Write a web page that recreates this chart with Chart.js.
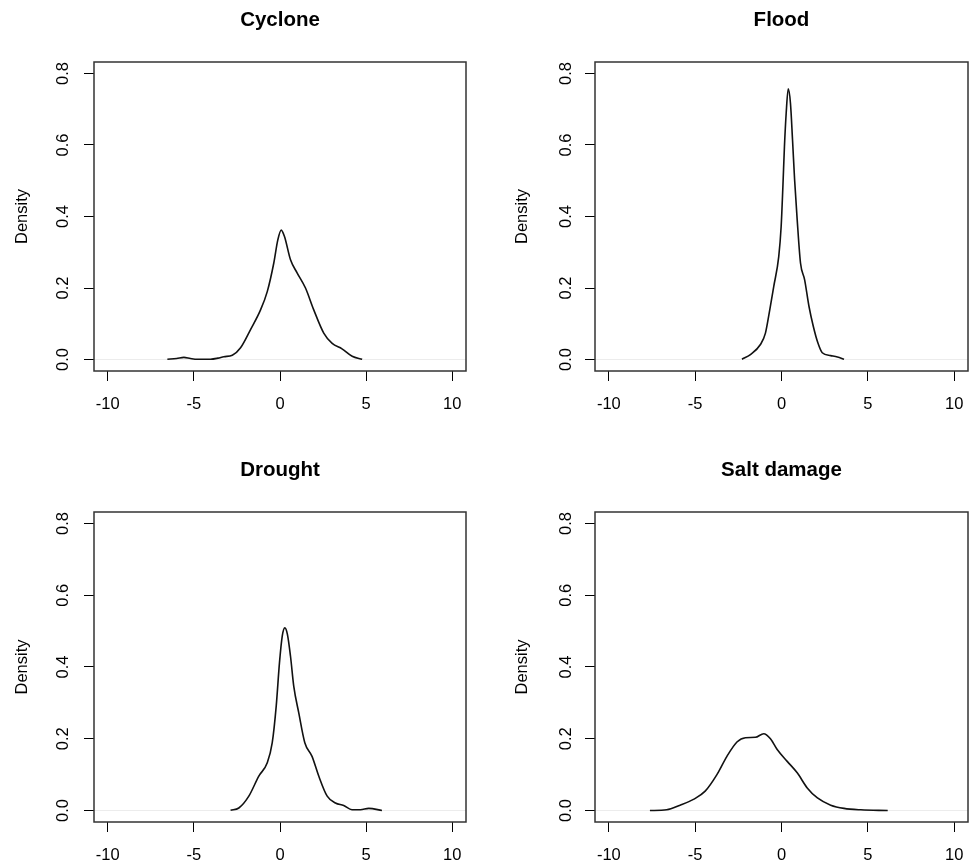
<!DOCTYPE html>
<html>
<head>
<meta charset="utf-8">
<script src="https://cdn.jsdelivr.net/npm/chart.js@4.4.1/dist/chart.umd.min.js"></script>
<style>
  html, body { margin: 0; padding: 0; background: #fff; }
  body { width: 970px; height: 864px; position: relative; overflow: hidden; }
  canvas { position: absolute; }
</style>
</head>
<body>
<canvas id="c1" width="485" height="432" style="left:0px;top:0px"></canvas>
<canvas id="c2" width="505" height="432" style="left:485px;top:0px"></canvas>
<canvas id="c3" width="485" height="432" style="left:0px;top:432px"></canvas>
<canvas id="c4" width="505" height="432" style="left:485px;top:432px"></canvas>
<script>
// ---- data ----
const panelTitles = ["Cyclone", "Flood", "Drought", "Salt damage"];
const yAxisLabel = "Density";
const xTickValues = [-10, -5, 0, 5, 10];
const yTickValues = [0, 0.2, 0.4, 0.6, 0.8];

const cycloneX = [-6.54,-6.0,-5.58,-5.2,-4.8,-4.03,-3.6,-3.26,-2.77,-2.29,-1.71,-1.13,-0.74,-0.36,-0.13,0.07,0.26,0.61,1.0,1.48,1.96,2.54,3.03,3.6,4.19,4.77];
const cycloneY = [0.001,0.003,0.006,0.003,0.001,0.001,0.004,0.008,0.012,0.033,0.084,0.139,0.19,0.27,0.334,0.362,0.344,0.279,0.242,0.2,0.139,0.074,0.045,0.03,0.009,0.001];

const floodX = [-2.29,-1.8,-1.22,-0.93,-0.68,-0.45,-0.16,-0.02,0.08,0.17,0.27,0.39,0.52,0.64,0.76,0.91,1.1,1.34,1.59,1.84,2.11,2.36,2.85,3.24,3.62];
const floodY = [0.001,0.014,0.042,0.074,0.139,0.204,0.288,0.372,0.483,0.595,0.688,0.757,0.716,0.613,0.502,0.39,0.27,0.223,0.149,0.093,0.046,0.019,0.011,0.007,0.001];

const droughtX = [-2.87,-2.39,-1.81,-1.23,-0.74,-0.45,-0.22,-0.03,0.13,0.28,0.43,0.61,0.8,1.09,1.44,1.86,2.25,2.74,3.22,3.7,4.18,4.67,5.15,5.92];
const droughtY = [0.001,0.007,0.04,0.096,0.133,0.189,0.291,0.412,0.486,0.509,0.491,0.43,0.346,0.272,0.189,0.151,0.096,0.04,0.021,0.014,0.002,0.002,0.006,0.0];

const saltX = [-7.62,-6.65,-5.87,-5.1,-4.42,-3.74,-3.16,-2.58,-2.09,-1.51,-1.03,-0.64,-0.25,0.33,0.91,1.49,2.08,2.85,3.62,4.59,6.15];
const saltY = [0.0,0.002,0.015,0.031,0.054,0.1,0.151,0.191,0.203,0.204,0.214,0.2,0.17,0.137,0.105,0.063,0.035,0.015,0.006,0.002,0.0];

const seriesX = [cycloneX, floodX, droughtX, saltX];
const seriesY = [cycloneY, floodY, droughtY, saltY];

// ---- layout per panel ----
const layouts = [
  { padL: 0,  yW: 94, padR: 19, topH: 62, titlePad: 8,    xH: 61, tickPad: 9 },
  { padL: 15, yW: 95, padR: 22, topH: 62, titlePad: 8,    xH: 61, tickPad: 7 },
  { padL: 0,  yW: 94, padR: 19, topH: 80, titlePad: 26.4, xH: 42, tickPad: 9 },
  { padL: 15, yW: 95, padR: 22, topH: 80, titlePad: 26.4, xH: 42, tickPad: 7 }
];

const FONT = "'Liberation Sans', Arial, Helvetica, sans-serif";

const boxPlugin = {
  id: 'rbox',
  afterDraw(chart) {
    const a = chart.chartArea, ctx = chart.ctx;
    ctx.save();
    ctx.strokeStyle = '#333';
    ctx.lineWidth = 1.5;
    ctx.strokeRect(a.left, a.top, a.right - a.left, a.bottom - a.top);
    ctx.restore();
  }
};

function makeChart(i) {
  const L = layouts[i];
  const pts = seriesX[i].map((x, k) => ({ x: x, y: seriesY[i][k] }));
  new Chart(document.getElementById('c' + (i + 1)), {
    type: 'line',
    data: {
      datasets: [{
        data: pts,
        borderColor: '#111',
        borderWidth: 1.6,
        pointRadius: 0,
        fill: false,
        cubicInterpolationMode: 'monotone',
        xAxisID: 'x',
        yAxisID: 'y'
      }]
    },
    plugins: [boxPlugin],
    options: {
      responsive: false,
      animation: false,
      devicePixelRatio: 1,
      layout: { padding: { left: L.padL, right: L.padR, top: 0, bottom: 0 } },
      plugins: {
        legend: { display: false },
        tooltip: { enabled: false },
        title: { display: false }
      },
      scales: {
        x: {
          type: 'linear',
          position: 'bottom',
          min: -10.8,
          max: 10.8,
          afterBuildTicks: s => { s.ticks = xTickValues.map(v => ({ value: v })); },
          afterFit: s => { s.height = L.xH; },
          border: { display: false },
          grid: { display: true, drawOnChartArea: false, drawTicks: true, tickLength: 10, tickColor: '#000', tickWidth: 1 },
          ticks: {
            color: '#000',
            padding: 14,
            maxRotation: 0,
            minRotation: 0,
            font: { family: FONT, size: 16.5, lineHeight: 1.2 },
            callback: v => String(v)
          }
        },
        xTop: {
          type: 'linear',
          position: 'top',
          min: -10.8,
          max: 10.8,
          afterFit: s => { s.height = L.topH; },
          border: { display: false },
          grid: { display: false },
          ticks: { display: false },
          title: {
            display: true,
            text: panelTitles[i],
            color: '#000',
            font: { family: FONT, size: 20.5, weight: 'bold', lineHeight: 1.2 },
            padding: { top: L.titlePad, bottom: 0 }
          }
        },
        y: {
          type: 'linear',
          min: -0.032,
          max: 0.832,
          afterBuildTicks: s => { s.ticks = yTickValues.map(v => ({ value: v })); },
          afterFit: s => { s.width = L.yW; },
          border: { display: false },
          grid: {
            display: true,
            drawOnChartArea: true,
            drawTicks: true,
            tickLength: 10,
            tickColor: '#000',
            tickWidth: 1,
            lineWidth: 1,
            color: c => (c.tick && c.tick.value === 0) ? '#ececec' : 'rgba(0,0,0,0)'
          },
          ticks: {
            color: '#000',
            padding: L.tickPad,
            crossAlign: 'center',
            minRotation: 90,
            maxRotation: 90,
            font: { family: FONT, size: 16.5, lineHeight: 1.2 },
            callback: v => Number(v).toFixed(1)
          },
          title: {
            display: true,
            text: yAxisLabel,
            color: '#000',
            font: { family: FONT, size: 16.5, lineHeight: 1.2 },
            padding: { top: 13, bottom: 0 }
          }
        }
      }
    }
  });
}

for (let i = 0; i < 4; i++) makeChart(i);
</script>
</body>
</html>
